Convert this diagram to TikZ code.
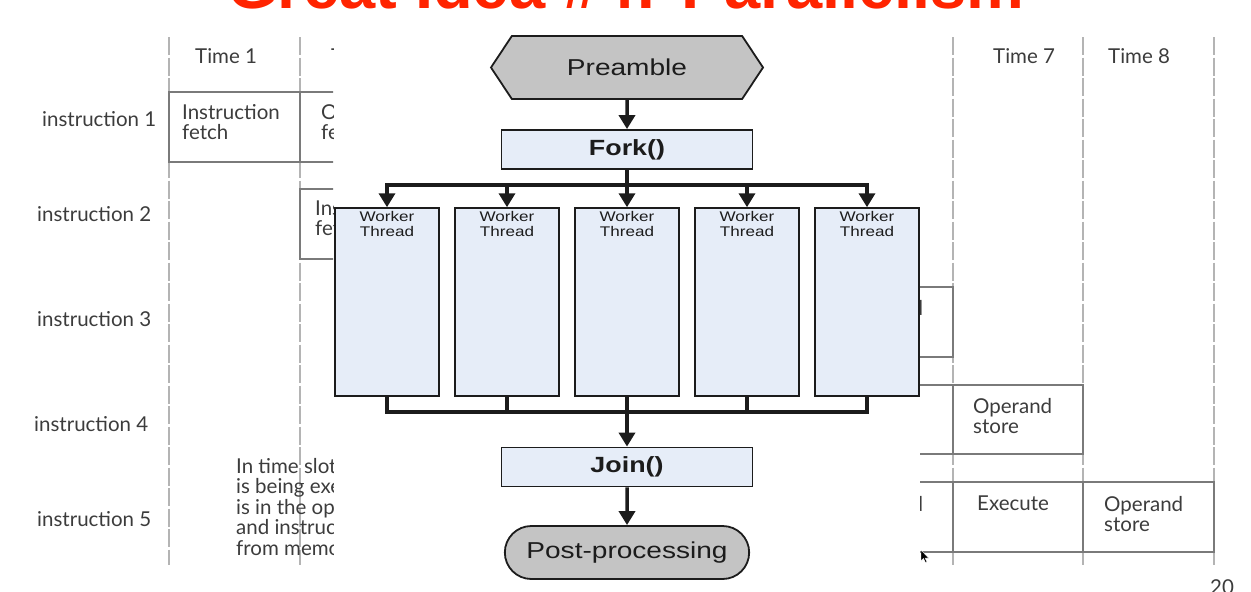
\documentclass[tikz,border=0pt]{standalone}
\usepackage{fontspec}
\setmainfont{Lato}
\newfontfamily\flowfont[FakeStretch=1.22]{Liberation Sans}
\newfontfamily\headfont{Liberation Sans}
\usepackage{tikz}
\usetikzlibrary{positioning, calc, arrows.meta, shapes.symbols, shapes.misc}

\definecolor{slidetext}{HTML}{3C3C3C}
\definecolor{gridgray}{HTML}{B4B4B4}
\definecolor{slotgray}{HTML}{7A7A7A}
\definecolor{flowink}{HTML}{1C1C1C}
\definecolor{threadblue}{HTML}{E6EDF8}
\definecolor{capgray}{HTML}{C4C4C4}
\definecolor{headred}{HTML}{FF2400}

\tikzset{
  timeline/.style={gridgray, line width=1.3pt, dash pattern=on 18pt off 2.5pt},
  slot/.style={draw=slotgray, line width=1.4pt},
  slidelabel/.style={inner sep=0pt, text=slidetext, font=\fontsize{20.5}{20.5}\selectfont},
  cell/.style={slidelabel, align=left, anchor=north west},
  flowtxt/.style={text=flowink, font=\flowfont\fontsize{23}{26}\selectfont},
  threadbox/.style={draw=flowink, line width=1.5pt, fill=threadblue, minimum width=104pt, minimum height=188pt, inner sep=0pt},
  threadtxt/.style={anchor=north, align=center, inner sep=3.5pt, text=flowink, font=\flowfont\fontsize{14}{15}\selectfont},
  stagebox/.style={draw=flowink, line width=1.8pt, fill=threadblue, minimum width=251pt, minimum height=39pt, text=flowink, font=\flowfont\bfseries\fontsize{22}{26}\selectfont},
  endcap/.style={flowtxt, draw=flowink, line width=1.8pt, fill=capgray},
  flow/.style={flowink, line width=3.5pt, -{Triangle[length=14pt, width=16pt]}},
  link/.style={flowink, line width=3.5pt},
}

\begin{document}
\begin{tikzpicture}[x=1pt, y=-1pt]
        \clip (0,0) rectangle (1251,592);

        % slide title, mostly off screen
        \node[anchor=base, inner sep=0pt, text=headred, font=\headfont\bfseries\fontsize{65}{70}\selectfont] (title) at (626,8.5) {Great Idea \#4: Parallelism};

        % the slide behind the overlay
        \begin{scope}
        \clip (0,0) -- (1251,0) -- (1251,592) -- (0,592) -- cycle
              (333,22) -- (333,592) -- (920,592) -- (920,22) -- cycle;

        \draw[timeline] (169,37)  -- (169,565);   %time 1
        \draw[timeline] (300,37)  -- (300,565);   %time 2
        \draw[timeline] (953,37)  -- (953,565);   %time 7
        \draw[timeline] (1083,37) -- (1083,565);  %time 8
        \draw[timeline] (1214,37) -- (1214,565);  %end

        \node[slidelabel, anchor=base west] (tm1) at (195,63)  {Time 1};
        \node[slidelabel, anchor=base west] (tm2) at (331,63)  {Time 2};
        \node[slidelabel, anchor=base west] (tm7) at (993,63)  {Time 7};
        \node[slidelabel, anchor=base west] (tm8) at (1108,63) {Time 8};

        \node[slidelabel, anchor=base west] (in1) at (42,126) {instruction 1};
        \node[slidelabel, anchor=base west] (in2) at (37,221) {instruction 2};
        \node[slidelabel, anchor=base west] (in3) at (37,326) {instruction 3};
        \node[slidelabel, anchor=base west] (in4) at (34,431) {instruction 4};
        \node[slidelabel, anchor=base west] (in5) at (37,526) {instruction 5};

        \draw[slot] (169,92)  rectangle (692,162);    %instruction 1
        \draw[slot] (300,92)  -- (300,162);
        \draw[slot] (300,189) rectangle (822,259);    %instruction 2
        \draw[slot] (430,287) rectangle (953,357);    %instruction 3
        \draw[slot] (561,385) rectangle (1083,454);   %instruction 4
        \draw[slot] (953,385) -- (953,454);
        \draw[slot] (692,482) rectangle (1214,552);   %instruction 5
        \draw[slot] (953,482) -- (953,552);
        \draw[slot] (1083,482) -- (1083,552);

        \node[cell] (s11) at (182,104)  {Instruction\\fetch};
        \node[cell] (s12) at (321,104)  {Operand\\fetch};
        \node[cell] (s22) at (315,200)  {Instruction\\fetch};
        \node[cell] (s36) at (844,300)  {Operand\\store};
        \node[cell] (s47) at (973,398)  {Operand\\store};
        \node[cell] (s56) at (844,496)  {Operand\\fetch};
        \node[cell] (s57) at (977,496)  {Execute};
        \node[cell] (s58) at (1104,496) {Operand\\store};

        \node[cell] (note) at (236,458) {In time slot 3, instruction 1\\is being executed, instruction 2\\is in the operand fetch phase,\\and instruction 3 is being fetched\\from memory.};

        \node[slidelabel, anchor=base] (page) at (1222,594) {20};
        \end{scope}

        % the fork / join overlay
        \node[endcap, signal, signal to=west and east, signal pointer angle=113,
              minimum width=272pt, minimum height=63pt, inner sep=0pt] (pre) at (627,67.5) {Preamble};
        \node[stagebox] (fork) at (627,149.5) {Fork()};

        \node[threadbox, label={[threadtxt]north:Worker\\Thread}] (t1) at (387,302) {};
        \node[threadbox, label={[threadtxt]north:Worker\\Thread}, right=14.5pt of t1] (t2) {};
        \node[threadbox, label={[threadtxt]north:Worker\\Thread}, right=14.5pt of t2] (t3) {};
        \node[threadbox, label={[threadtxt]north:Worker\\Thread}, right=14.5pt of t3] (t4) {};
        \node[threadbox, label={[threadtxt]north:Worker\\Thread}, right=14.5pt of t4] (t5) {};

        \node[stagebox] (join) at (627,467) {Join()};
        \node[endcap, rounded rectangle, minimum width=251pt, minimum height=53pt] (post) at (627,552.5) {Post-processing};

        \coordinate (split) at (627,185);
        \coordinate (merge) at (627,412);

        \draw[flow] (pre) -- (fork);
        \draw[flow] (fork) -- (split) -| (t1);
        \draw[flow] (fork) -- (split) -| (t2);
        \draw[flow] (fork) -- (t3);
        \draw[flow] (fork) -- (split) -| (t4);
        \draw[flow] (fork) -- (split) -| (t5);

        \draw[link] (t1) |- (merge);
        \draw[link] (t2) |- (merge);
        \draw[link] (t4) |- (merge);
        \draw[link] (t5) |- (merge);
        \draw[flow] (t3) -- (join);
        \draw[flow] (join) -- (post);

        % mouse pointer
        \fill[black, draw=white, line width=0.4pt] (921,550) -- (921,561) -- (923.5,558.5) -- (925.5,562.5)
              -- (927,561.8) -- (925,558) -- (928.5,558) -- cycle;
\end{tikzpicture}
\end{document}
